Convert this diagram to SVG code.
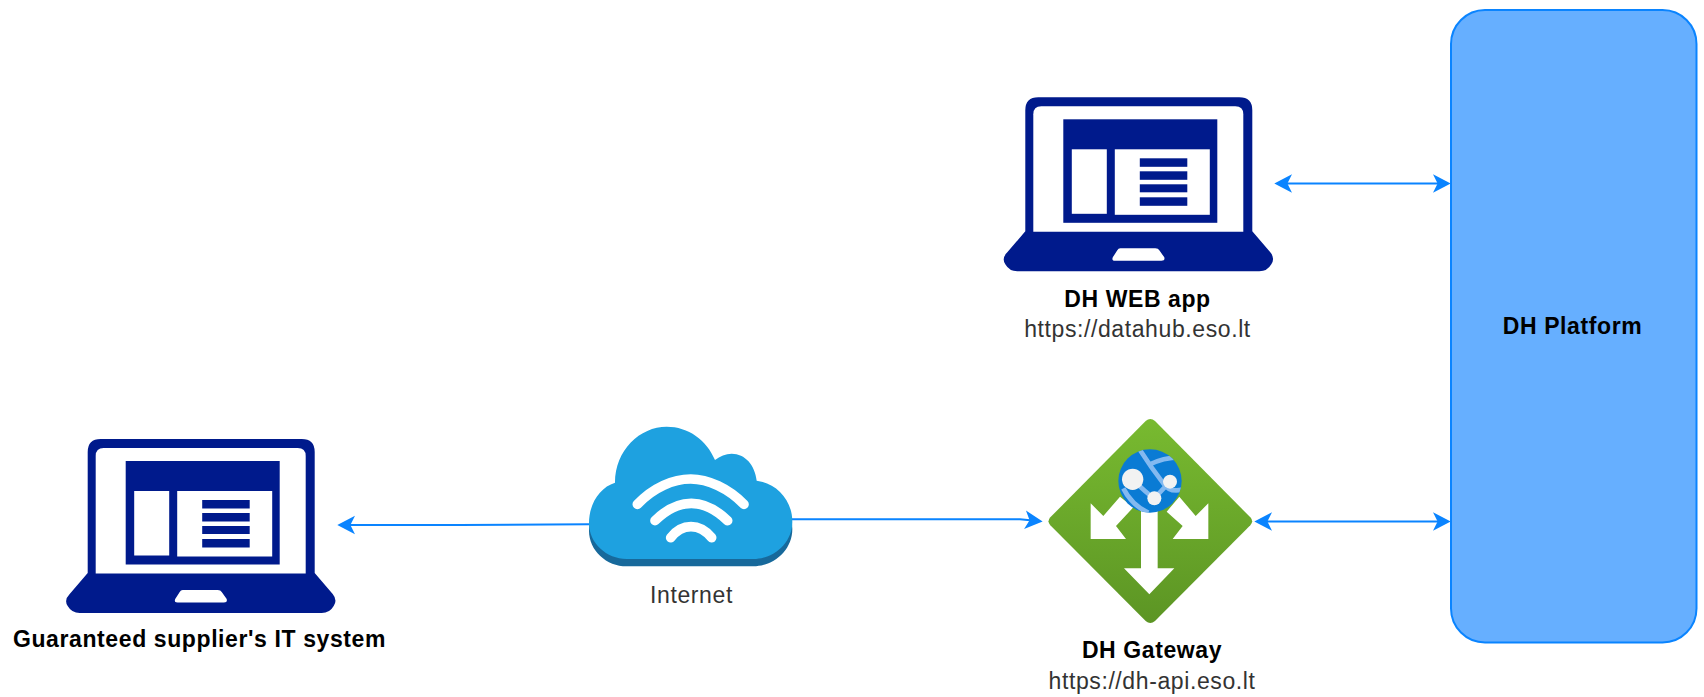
<svg xmlns="http://www.w3.org/2000/svg" width="1704" height="697" viewBox="0 0 1704 697">
<style>
.t{font-family:"Liberation Sans",Arial,sans-serif;font-size:23px;letter-spacing:.6px;text-anchor:middle;fill:#333}
.b{font-weight:700;fill:#000}
.c{fill:none;stroke:#0a84ff;stroke-width:2}
.n{fill:#001a8c}
.w{fill:#fff}
.arc{fill:none;stroke:#fff;stroke-width:29;stroke-linecap:round}
.gl{fill:none;stroke:#83b9f0;stroke-width:14}
</style>
<defs>
<marker id="ah" viewBox="0 0 18 20" refX="5" refY="10" markerWidth="18" markerHeight="20" markerUnits="userSpaceOnUse" orient="auto-start-reverse">
<path d="M0 .7 L17.700 10 L0 19.300 L4.600 10Z" fill="#0a84ff"/>
</marker>
<linearGradient id="gg" x1="0" y1="0" x2="0" y2="1"><stop offset="0" stop-color="#78ba30"/><stop offset="1" stop-color="#5c9524"/></linearGradient>
<clipPath id="globe"><circle cx="390" cy="243" r="95"/></clipPath>
<g id="laptop">
<path class="n" d="M22 13 Q22 0 35 0 H236 Q249 0 249 13 V134 L267 155 Q272 161 268 167 Q264 174 256 174 H14 Q6 174 2 167 Q-2 161 4 155 L22 134Z"/>
<path class="w" d="M30 17 Q30 9 38 9 H232 Q240 9 240 17 V134.500 H30Z"/>
<rect class="n" x="60" y="22" width="154" height="103.500"/>
<rect class="w" x="68.500" y="52" width="35" height="64.500"/>
<rect class="w" x="111.500" y="52" width="95" height="65.500"/>
<rect class="n" x="136.500" y="61" width="47.500" height="8.500"/>
<rect class="n" x="136.500" y="74" width="47.500" height="8.500"/>
<rect class="n" x="136.500" y="87" width="47.500" height="8"/>
<rect class="n" x="136.500" y="100" width="47.500" height="8.500"/>
<path class="w" d="M117 151 H152 Q155 151 156 153 L161 160 Q162 163.500 158 163.500 H112 Q108 163.500 109.500 160 L114 153 Q115 151 117 151Z"/>
</g>
</defs>
<g id="connectors">
<path class="c" d="M1287 183.500 H1438" marker-start="url(#ah)" marker-end="url(#ah)"/>
<path class="c" d="M1267 521.500 H1438" marker-start="url(#ah)" marker-end="url(#ah)"/>
<path class="c" d="M792 519.300 H1020 L1030 520.300" marker-end="url(#ah)"/>
<path class="c" d="M589 524.300 L460 525 H350" marker-end="url(#ah)"/>
</g>
<g id="dh-platform">
<rect x="1451" y="10" width="245.500" height="632.500" rx="34" fill="#66afff" stroke="#0a84ff" stroke-width="2"/>
<text class="t b" x="1572.500" y="334">DH Platform</text>
</g>
<g id="dh-web-app">
<use href="#laptop" x="1003.300" y="97.300"/>
<text class="t b" x="1137.500" y="306.500">DH WEB app</text>
<text class="t" x="1137.500" y="337">https://datahub.eso.lt</text>
</g>
<g id="supplier-system">
<use href="#laptop" x="65.700" y="439"/>
<text class="t b" x="199.500" y="647">Guaranteed supplier's IT system</text>
</g>
<g id="internet">
<g transform="translate(560 410) scale(.33333)">
<path fill="#17699b" transform="translate(0 22)" d="M87 340 C87 280 120 232 165 218 C165 120 240 50 320 50 C385 50 440 90 465 150 C480 138 497 131 515 131 C555 131 585 165 590 212 C650 220 697 270 697 335 C697 400 640 447 580 447 H200 C140 447 87 400 87 340Z"/>
<path fill="#1ea1e0" d="M87 340 C87 280 120 232 165 218 C165 120 240 50 320 50 C385 50 440 90 465 150 C480 138 497 131 515 131 C555 131 585 165 590 212 C650 220 697 270 697 335 C697 400 640 447 580 447 H200 C140 447 87 400 87 340Z"/>
<path class="arc" d="M232 283 C280 232 340 207 392 207 C444 207 505 235 552 283"/>
<path class="arc" d="M285 332 C320 297 355 280 394 280 C435 280 470 300 503 332"/>
<path class="arc" d="M332 383 C350 360 370 350 393 350 C418 350 440 365 455 383"/>
</g>
<text class="t" x="691.500" y="602.500">Internet</text>
</g>
<g id="dh-gateway">
<g transform="translate(1020 400) scale(.33333)">
<path fill="url(#gg)" d="M377 63 Q391 51 405 63 L691 352 Q702 364 691 376 L405 663 Q391 675 377 663 L91 376 Q80 364 91 352Z"/>
<path class="w" d="M212 417 V310 L250 348 L300 290 L340 322 L288 378 L318 417Z"/>
<path class="w" d="M565 417 V310 L527 348 L478 290 L440 335 L488 378 L458 417Z"/>
<path class="w" d="M363 320 H413 V505 H463 L388 583 L312 505 H363Z"/>
<circle cx="390" cy="243" r="95" fill="#0a7bd4"/>
<g clip-path="url(#globe)">
<path class="gl" d="M360 150 Q395 205 430 250 Q450 280 490 268"/>
<path class="gl" d="M385 195 Q430 172 480 172"/>
<path class="gl" d="M338 238 Q380 280 403 295 L450 245"/>
<path class="gl" d="M310 265 Q335 315 385 338"/>
</g>
<circle cx="338" cy="238" r="32" fill="#f2f2f2"/>
<circle cx="450" cy="245" r="21" fill="#f2f2f2"/>
<circle cx="403" cy="295" r="21" fill="#f2f2f2"/>
</g>
<text class="t b" x="1152" y="658">DH Gateway</text>
<text class="t" x="1152" y="689">https://dh-api.eso.lt</text>
</g>
</svg>
